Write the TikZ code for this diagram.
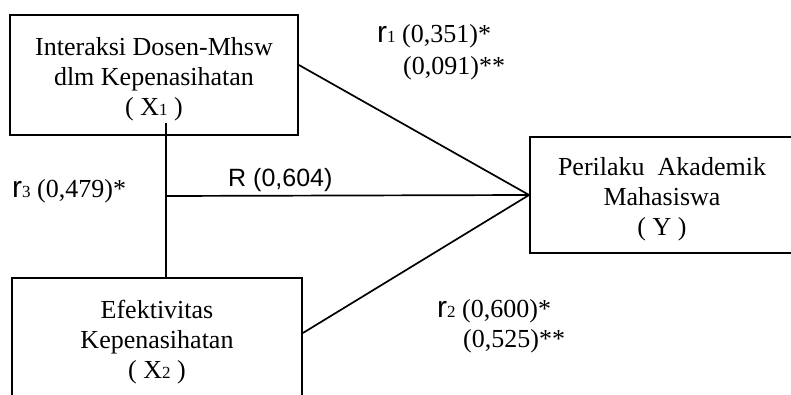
\documentclass[tikz,border=0pt]{standalone}
\usepackage{fontspec}
\setmainfont{Liberation Serif}
\newfontfamily\arialf{Liberation Sans}
\newcommand{\smallsub}[1]{{\fontsize{17}{17}\selectfont #1}}
\newcommand{\rsym}[1]{{\arialf\fontsize{30}{30}\selectfont r}\smallsub{#1}}
\newcommand{\topstrut}{\rule{0pt}{26pt}}
\begin{document}
\begin{tikzpicture}[x=1pt,y=-1pt,
  box/.style={draw, line width=1.8pt, rectangle, inner sep=0pt, align=center, font=\fontsize{26}{30}\selectfont},
  conn/.style={line width=1.7pt},
  lbl/.style={anchor=base west, inner sep=0pt, font=\fontsize{26}{30}\selectfont}]
\useasboundingbox (0,0) rectangle (791,395);
\clip (0,0) rectangle (791,395);
\node[box, minimum width=288, minimum height=120] (x1) at (154,75)
  {\topstrut Interaksi Dosen-Mhsw\\dlm Kepenasihatan\\( X\smallsub{1} )};
\node[box, minimum width=290, minimum height=120] (x2) at (157,338)
  {\topstrut Efektivitas\\Kepenasihatan\\( X\smallsub{2} )};
\node[box, minimum width=264, minimum height=116] (y) at (662,195)
  {\topstrut Perilaku\ \ Akademik\\Mahasiswa\\( Y )};
\coordinate (vtop) at (166,123);
\coordinate (h) at (166,196);
\draw[conn] (x1.east |- 0,65) -- (y.west);
\draw[conn] (x2.east |- 0,333) -- (y.west);
\draw[conn] (h) -- (y.west);
\draw[conn] (vtop) -- (x2.north -| vtop);
\node[lbl] (r1) at (377,43) {\rsym{1} (0,351)*};
\node[lbl] (r1b) at (403,75) {(0,091)**};
\node[lbl, font=\arialf\fontsize{25}{25}\selectfont] (R) at (228,187) {R (0,604)};
\node[lbl] (r3) at (12,198) {\rsym{3} (0,479)*};
\node[lbl] (r2) at (437,317) {\rsym{2} (0,600)*};
\node[lbl] (r2b) at (463,347) {(0,525)**};
\end{tikzpicture}
\end{document}
